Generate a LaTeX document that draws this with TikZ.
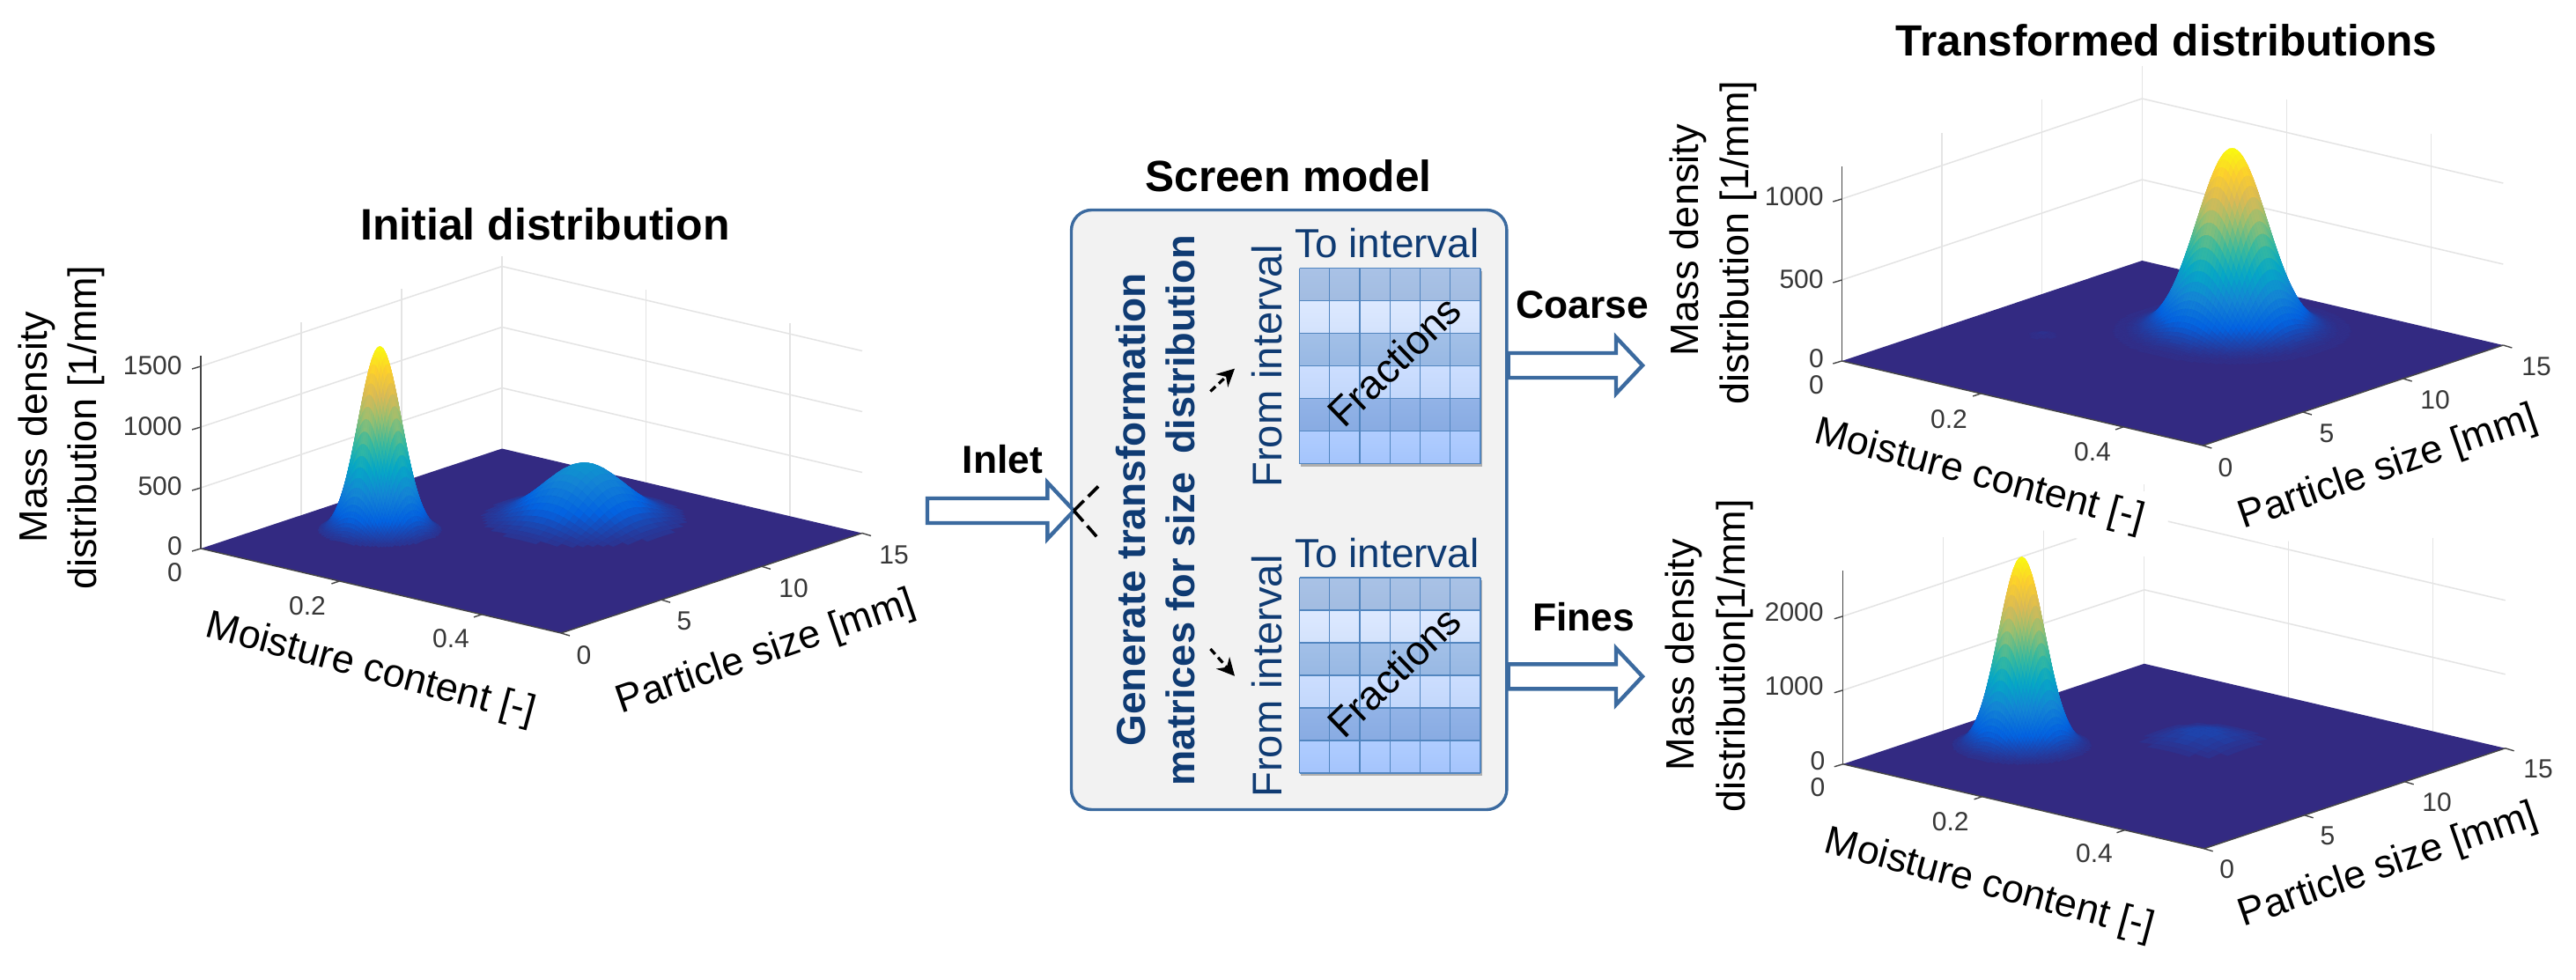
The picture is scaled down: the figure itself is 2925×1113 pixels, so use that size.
\documentclass[tikz,border=0pt]{standalone}
\usepackage{fontspec}
\setmainfont{Liberation Sans}
\usetikzlibrary{calc,arrows.meta}
\definecolor{s0}{RGB}{51,42,130}
\definecolor{s1}{RGB}{3,99,225}
\definecolor{s2}{RGB}{20,133,212}
\definecolor{s3}{RGB}{6,167,198}
\definecolor{s4}{RGB}{56,185,158}
\definecolor{s5}{RGB}{146,191,115}
\definecolor{s6}{RGB}{217,186,86}
\definecolor{s7}{RGB}{252,206,46}
\definecolor{s8}{RGB}{249,251,14}
\definecolor{navy}{RGB}{15,59,115}
\definecolor{edgeblue}{RGB}{59,106,159}
\definecolor{gridgrey}{RGB}{228,228,228}
\definecolor{axisgrey}{RGB}{70,70,70}
\definecolor{tickgrey}{RGB}{55,55,55}
\definecolor{panel}{RGB}{242,242,242}
\definecolor{cellline}{RGB}{82,134,192}
% colour table pc0..pc128
\foreach \a [evaluate=\a as \b using int(\a+1)] in {0,...,7}{%
  \foreach \f in {0,...,16}{%
    \pgfmathtruncatemacro\kk{16*\a+\f}%
    \pgfmathtruncatemacro\pp{100-\f*6.25}%
    \edef\tmp{\noexpand\xglobal\noexpand\colorlet{pc\kk}{s\a!\pp!s\b}}\tmp
  }%
}
\tikzset{
  wall/.style={draw=gridgrey,line width=0.75pt},
  axisline/.style={draw=axisgrey,line width=0.7pt},
  ticklab/.style={text=tickgrey,inner sep=0pt,font=\fontsize{15}{18}\selectfont},
  axlab/.style={text=black,inner sep=0pt,font=\fontsize{22.5}{27}\selectfont},
  titlelab/.style={text=black,inner sep=0pt,font=\fontsize{25}{30}\selectfont\bfseries},
  flowlab/.style={text=black,inner sep=0pt,font=\fontsize{22.2}{27}\selectfont\bfseries},
  navytext/.style={text=navy,inner sep=0pt,font=\fontsize{23}{27}\selectfont},
  navybold/.style={text=navy,inner sep=0pt,font=\fontsize{23}{28}\selectfont\bfseries},
  blockarr/.style={draw=edgeblue,fill=white,line width=2.2pt,line join=miter},
  dashline/.style={draw=black,line width=1.8pt,dash pattern=on 8pt off 3.5pt},
  dasharrow/.style={draw=black,line width=1.6pt,dash pattern=on 4pt off 2.5pt,-{Stealth[length=10pt,width=10pt]}},
  frac/.style={text=black,inner sep=0pt,font=\fontsize{23}{26}\selectfont,rotate=44},
}
% plot frame: L, A, B vectors, wall height, list of tick heights
\newcommand\plotframe[8]{%
  \def\Lx{#1}\def\Ly{#2}\def\Ax{#3}\def\Ay{#4}\def\Bx{#5}\def\By{#6}\def\Hh{#7}%
  \foreach \zz in {#8}{%
    \draw[wall] (\Lx,\Ly-\zz) -- (\Lx+\Bx,\Ly+\By-\zz) -- (\Lx+\Bx+\Ax,\Ly+\By+\Ay-\zz);
  }%
  \foreach \ff in {0.3333,0.6667,1}{%
    \draw[wall] (\Lx+\ff*\Bx,\Ly+\ff*\By) -- (\Lx+\ff*\Bx,\Ly+\ff*\By-\Hh);
  }%
  \foreach \ff in {0.4,0.8}{%
    \draw[wall] (\Lx+\Bx+\ff*\Ax,\Ly+\By+\ff*\Ay) -- (\Lx+\Bx+\ff*\Ax,\Ly+\By+\ff*\Ay-\Hh);
  }%
  \fill[pc0] (\Lx,\Ly) -- (\Lx+\Ax,\Ly+\Ay) -- (\Lx+\Ax+\Bx,\Ly+\Ay+\By) -- (\Lx+\Bx,\Ly+\By) -- cycle;
  \draw[axisline] (\Lx,\Ly) -- (\Lx,\Ly-\Hh);
  \draw[axisline] (\Lx,\Ly) -- (\Lx+\Ax,\Ly+\Ay) -- (\Lx+\Ax+\Bx,\Ly+\Ay+\By);
  \foreach \zz in {0,#8}{\draw[axisline] (\Lx,\Ly-\zz) -- (\Lx-10,\Ly-\zz+3);}%
  \foreach \ff in {0.385,0.78}{\draw[axisline] (\Lx+\ff*\Ax,\Ly+\ff*\Ay) -- (\Lx+\ff*\Ax-9,\Ly+\ff*\Ay+3);}%
  \foreach \ff in {0,0.3333,0.6667,1}{\draw[axisline] (\Lx+\Ax+\ff*\Bx,\Ly+\Ay+\ff*\By) -- (\Lx+\Ax+\ff*\Bx+10,\Ly+\Ay+\ff*\By+3);}%
}
% Gaussian peak: u0 v0 sigma height cmax N kmin
\newcommand\speak[7]{%
  \def\Nn{#6}%
  \pgfmathtruncatemacro\Nm{#6-1}%
  \foreach \i in {0,...,\Nn}{%
    \pgfmathsetmacro\ti{3.4*(2*\i/\Nn-1)}%
    \pgfmathsetmacro\vv{#2+#3*\ti}%
    \pgfmathsetmacro\ev{exp(-0.5*\ti*\ti)}%
    \foreach \j in {0,...,\Nn}{%
      \pgfmathsetmacro\tj{3.4*(2*\j/\Nn-1)}%
      \pgfmathsetmacro\uu{#1+#3*\tj}%
      \pgfmathsetmacro\zval{#4*\ev*exp(-0.5*\tj*\tj)}%
      \pgfmathsetmacro\xs{\Lx+\uu*\Ax+\vv*\Bx}%
      \pgfmathsetmacro\ys{\Ly+\uu*\Ay+\vv*\By-\zval}%
      \expandafter\xdef\csname gx\i-\j\endcsname{\xs}%
      \expandafter\xdef\csname gy\i-\j\endcsname{\ys}%
      \expandafter\xdef\csname gz\i-\j\endcsname{\zval}%
    }%
  }%
  \foreach \ii in {\Nn,...,1}{%
    \pgfmathtruncatemacro\im{\ii-1}%
    \foreach \j in {0,...,\Nm}{%
      \pgfmathtruncatemacro\jp{\j+1}%
      \pgfmathtruncatemacro\kk{min(128,round((\csname gz\ii-\j\endcsname+\csname gz\ii-\jp\endcsname+\csname gz\im-\j\endcsname+\csname gz\im-\jp\endcsname)/#5*32))}%
      \ifnum\kk<#7\relax\else
        \filldraw[draw=pc\kk,fill=pc\kk,line width=0.15pt,line join=round]
          (\csname gx\ii-\j\endcsname,\csname gy\ii-\j\endcsname) --
          (\csname gx\ii-\jp\endcsname,\csname gy\ii-\jp\endcsname) --
          (\csname gx\im-\jp\endcsname,\csname gy\im-\jp\endcsname) --
          (\csname gx\im-\j\endcsname,\csname gy\im-\j\endcsname) -- cycle;
      \fi
    }%
  }%
}
% transformation matrix
\newcommand\matrixgrid[2]{% top y, name prefix
  \fill[black,opacity=0.28] (1477,#1+3) rectangle (1683,#1+225);
  \foreach \r/\ct/\cb in {0/A9C2E6/A2BCE1,1/DDE9FF/D3E2FC,2/A2C0E8/98B8E3,3/CCDEFF/C2D7FB,4/92B3E7/88ABE2,5/B0CDFF/A4C4FC}{%
    \definecolor{ctop}{HTML}{\ct}\definecolor{cbot}{HTML}{\cb}%
    \shade[top color=ctop,bottom color=cbot] (1475.5,#1+\r*37) rectangle (1681,#1+\r*37+37);
  }%
  \foreach \c in {0,...,6}{\draw[cellline,line width=0.7pt] (1475.5+\c*34.25,#1) -- (1475.5+\c*34.25,#1+222);}%
  \foreach \r in {0,...,6}{\draw[cellline,line width=0.7pt] (1475.5,#1+\r*37) -- (1681,#1+\r*37);}%
}
\newcommand\blockarrow[2]{%
  \draw[blockarr] ($(#1)+(0,-14)$) -- ($(#2)+(-30,-14)$) -- ($(#2)+(-30,-32)$) -- (#2) -- ($(#2)+(-30,32)$) -- ($(#2)+(-30,14)$) -- ($(#1)+(0,14)$) -- cycle;
}
\begin{document}
\begin{tikzpicture}[x=0.5pt,y=-0.5pt]
\useasboundingbox (0,0) rectangle (2925,1113);
\fill[white] (0,0) rectangle (2925,1113);

%% ---------- lower right plot (first, partly hidden by labels above)
\plotframe{2092.7}{867.8}{410}{96}{342}{-114}{220}{84,168}
\fill[white] (2310,600) -- (2356,611) -- (2435,632) -- (2462,592) -- (2440,558) -- (2300,558) -- cycle;
\fill[white] (2420,525) rectangle (2450,550);
\fill[white] (2520,604) -- (2582,620) -- (2600,614) -- (2760,592) -- (2760,560) -- (2520,560) -- cycle;
\speak{0.4786}{0.622}{0.068}{13}{216}{24}{2}
\speak{0.208}{0.344}{0.049}{216}{216}{64}{2}

%% ---------- upper right plot
\plotframe{2091.3}{410}{410}{96}{341}{-114}{221}{92,184}
\speak{0.204}{0.424}{0.015}{4}{208}{10}{1}
\speak{0.4924}{0.7074}{0.075}{208}{208}{64}{1}

%% ---------- left plot
\plotframe{228}{623}{409}{96}{342}{-113.5}{219}{69,138,207}
\speak{0.492}{0.684}{0.09}{66}{212}{40}{3}
\speak{0.2158}{0.3367}{0.046}{212}{212}{64}{3}

%% titles
\node[titlelab] (tInit) at (619,255) {Initial distribution};
\node[titlelab,font=\fontsize{24.8}{30}\selectfont\bfseries] (tScreen) at (1463,200) {Screen model};
\node[titlelab,font=\fontsize{24.8}{30}\selectfont\bfseries] (tTrans) at (2460,46) {Transformed distributions};

%% left plot labels
\node[axlab,rotate=90] (a1m) at (42,485) {Mass density};
\node[axlab,rotate=90] (a1d) at (98,486) {distribution [1/mm]};
\node[axlab,rotate=-15] (a1x) at (421,761) {Moisture content [-]};
\node[axlab,rotate=19] (a1y) at (870,742) {Particle size [mm]};
\node[ticklab,anchor=east] (l1a) at (207,415) {1500};
\node[ticklab,anchor=east] (l1b) at (207,484) {1000};
\node[ticklab,anchor=east] (l1c) at (207,552) {500};
\node[ticklab] (l1d) at (198.5,620) {0};
\node[ticklab] (l1e) at (198.5,650) {0};
\node[ticklab] (l1f) at (349,688) {0.2};
\node[ticklab] (l1g) at (512,725.6) {0.4};
\node[ticklab] (l1h) at (663,744) {0};
\node[ticklab] (l1i) at (777,705) {5};
\node[ticklab] (l1j) at (901,668) {10};
\node[ticklab] (l1k) at (1015,630) {15};

%% upper right labels
\node[axlab,rotate=90] (a2m) at (1916.5,272.7) {Mass density};
\node[axlab,rotate=90] (a2d) at (1973.4,275.5) {distribution [1/mm]};
\node[axlab,rotate=-15] (a2x) at (2247.6,541.5) {Moisture content [-]};
\node[axlab,rotate=19] (a2y) at (2712,532) {Particle size [mm]};
\node[ticklab,anchor=east] (l2a) at (2071,222.7) {1000};
\node[ticklab,anchor=east] (l2b) at (2071,317) {500};
\node[ticklab] (l2c) at (2062.5,406.8) {0};
\node[ticklab] (l2d) at (2062.5,437.4) {0};
\node[ticklab] (l2e) at (2213,475.7) {0.2};
\node[ticklab] (l2f) at (2376,512.8) {0.4};
\node[ticklab] (l2g) at (2527,530.8) {0};
\node[ticklab] (l2h) at (2642,492.5) {5};
\node[ticklab] (l2i) at (2765,454) {10};
\node[ticklab] (l2j) at (2880,416) {15};

%% lower right labels
\node[axlab,rotate=90] (a3m) at (1911.7,743.7) {Mass density};
\node[axlab,rotate=90] (a3d) at (1970,744.6) {distribution[1/mm]};
\node[axlab,rotate=-15] (a3x) at (2259,1006) {Moisture content [-]};
\node[axlab,rotate=19] (a3y) at (2712,984) {Particle size [mm]};
\node[ticklab,anchor=east] (l3a) at (2071,695) {2000};
\node[ticklab,anchor=east] (l3b) at (2071,779) {1000};
\node[ticklab] (l3c) at (2064,864) {0};
\node[ticklab] (l3d) at (2064,893.7) {0};
\node[ticklab] (l3e) at (2214.7,932.8) {0.2};
\node[ticklab] (l3f) at (2378,969) {0.4};
\node[ticklab] (l3g) at (2528.7,987.6) {0};
\node[ticklab] (l3h) at (2643,949) {5};
\node[ticklab] (l3i) at (2767,911) {10};
\node[ticklab] (l3j) at (2882,873) {15};

%% screen model
\node[draw=edgeblue,fill=panel,line width=1.7pt,rounded corners=11.5pt,minimum width=247.2pt,minimum height=340.5pt,inner sep=0pt] (screen) at (1463.7,579) {};
\node[navybold,rotate=90] (gen1) at (1284,579) {Generate transformation};
\node[navybold,rotate=90,font=\fontsize{22.6}{28}\selectfont\bfseries] (gen2) at (1340,580) {matrices for size\, distribution};
\node[navytext] (to1) at (1575,276) {To interval};
\node[navytext] (to2) at (1575,627.6) {To interval};
\node[navytext,rotate=90,font=\fontsize{23.6}{27}\selectfont] (from1) at (1439,416) {From interval};
\node[navytext,rotate=90,font=\fontsize{23.6}{27}\selectfont] (from2) at (1439,768) {From interval};
\matrixgrid{304.5}{m}
\matrixgrid{656}{n}
\node[frac] (fr1) at (1583,410) {Fractions};
\node[frac] (fr2) at (1583,763) {Fractions};

%% flows
\coordinate (inTail) at (1053,580);
\coordinate (inTip) at (1219.4,580);
\coordinate (coTail) at (screen.east |- 0,415);
\coordinate (coTip) at (1865,415);
\coordinate (fiTail) at (screen.east |- 0,768.3);
\coordinate (fiTip) at (1865,768.3);
\blockarrow{inTail}{inTip}
\blockarrow{coTail}{coTip}
\blockarrow{fiTail}{fiTip}
\node[flowlab] (inlet) at (1138.5,521.5) {Inlet};
\node[flowlab] (coarse) at (1797,346.5) {Coarse};
\node[flowlab] (fines) at (1798,701) {Fines};
\coordinate (d1) at (1248,551.5);
\coordinate (d2) at (1248,612.6);
\draw[dashline] (inTip) -- (d1);
\draw[dashline] (inTip) -- (d2);
\coordinate (e1a) at (1374.4,444.5);
\coordinate (e1b) at (1402,418.6);
\coordinate (e2a) at (1374.4,737);
\coordinate (e2b) at (1402,767.8);
\draw[dasharrow] (e1a) -- (e1b);
\draw[dasharrow] (e2a) -- (e2b);
\end{tikzpicture}
\end{document}
